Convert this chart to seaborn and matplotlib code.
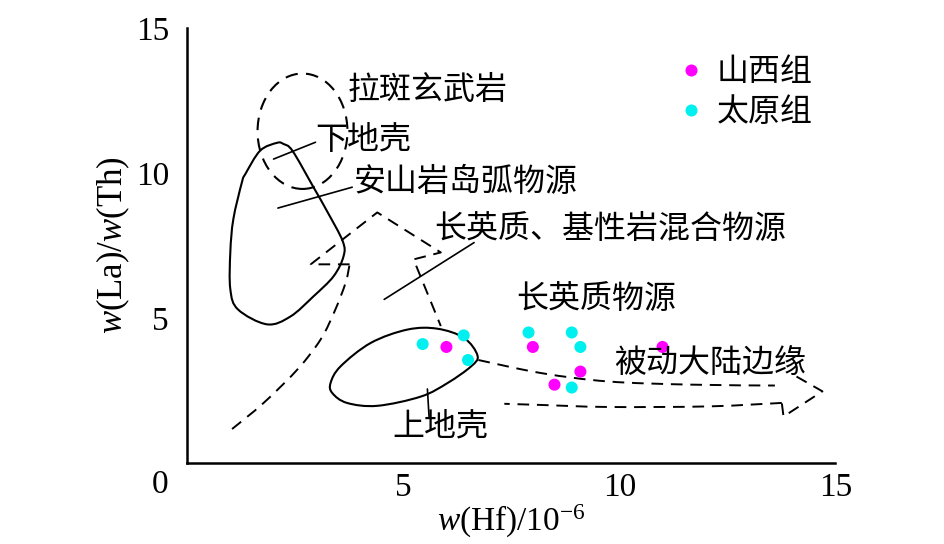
import numpy as np
import pandas as pd
import matplotlib
matplotlib.use("Agg")
import matplotlib.pyplot as plt
from matplotlib.path import Path
from matplotlib.patches import PathPatch, Ellipse
import seaborn as sns

# sample points
shanxi_x = [6.0, 8.0, 8.5, 9.1, 11.0]
shanxi_y = [4.0, 4.0, 2.7, 3.15, 4.0]
taiyuan_x = [5.45, 6.4, 6.5, 7.9, 8.9, 9.1, 8.9]
taiyuan_y = [4.1, 4.4, 3.55, 4.5, 4.5, 4.0, 2.6]

# field outlines (data units)
tholeiite_center = (2.67, 11.44)
tholeiite_size = (2.08, 3.98)
andesite_x = [2.08, 1.69, 1.35, 1.27, 1.07, 1.00, 1.00, 1.18, 1.85, 2.39, 2.92, 3.39, 3.62, 3.60, 3.25, 2.92, 2.44, 2.23]
andesite_y = [11.04, 10.77, 9.97, 9.69, 8.41, 7.27, 5.99, 5.29, 4.78, 5.05, 5.74, 6.44, 7.13, 7.65, 8.65, 9.52, 10.76, 11.0]
upper_crust_x = [3.32, 3.55, 4.25, 5.10, 5.79, 6.41, 6.72, 6.57, 6.03, 5.41, 4.40, 3.70, 3.36]
upper_crust_y = [2.76, 3.33, 4.14, 4.60, 4.63, 4.31, 3.70, 3.33, 2.76, 2.29, 1.97, 2.07, 2.41]
arc_curve_x = [1.04, 1.77, 2.55, 3.09, 3.43, 3.67, 3.76]
arc_curve_y = [1.17, 2.07, 3.22, 4.26, 5.29, 6.23, 6.85]
mixed_x = [3.76, 2.86, 4.40, 5.87, 5.24, 5.87]
mixed_y = [6.85, 6.85, 8.64, 7.26, 7.02, 4.72]
passive_top_x = [6.74, 8.19, 9.74, 11.67, 13.6]
passive_top_y = [3.55, 3.10, 2.81, 2.70, 2.67]
passive_head_x = [14.1, 14.7, 13.8, 13.76]
passive_head_y = [2.98, 2.47, 1.6, 2.07]
passive_low_x = [13.76, 12.06, 9.74, 8.19, 7.34]
passive_low_y = [2.07, 1.95, 1.93, 2.0, 2.04]

# labels: (text, x, y)
labels = [
    ("拉斑玄武岩", 3.71, 12.85),
    ("下地壳", 2.97, 11.14),
    ("安山岩岛弧物源", 3.85, 9.69),
    ("长英质、基性岩混合物源", 5.71, 8.06),
    ("长英质物源", 7.61, 5.64),
    ("被动大陆边缘", 9.88, 3.46),
    ("上地壳", 4.75, 1.26),
]
leaders = [
    ((2.0, 2.97), (10.48, 11.06)),
    ((2.10, 3.82), (8.79, 9.51)),
    ((4.56, 6.64), (5.64, 7.60)),
    ((5.56, 5.60), (2.55, 1.55)),
]

sns.set_style("white")
plt.rcParams["font.family"] = ["Liberation Serif", "Noto Sans CJK SC"]
plt.rcParams["mathtext.fontset"] = "custom"
plt.rcParams["mathtext.rm"] = "Liberation Serif"
plt.rcParams["mathtext.it"] = "Liberation Serif:italic"
for key in ["text.color", "axes.labelcolor", "xtick.color", "ytick.color"]:
    plt.rcParams[key] = "black"
CJK = ["Noto Sans CJK SC", "DejaVu Sans"]
DASH = (0, (6, 4))


def smooth_path(xs, ys, closed=False):
    # Catmull-Rom through the points, drawn as cubic Bezier by matplotlib
    pts = np.column_stack([xs, ys]).astype(float)
    n = len(pts)
    if closed:
        idx = lambda i: pts[i % n]
        segs = n
    else:
        idx = lambda i: pts[min(max(i, 0), n - 1)]
        segs = n - 1
    verts = [pts[0]]
    codes = [Path.MOVETO]
    for i in range(segs):
        p0, p1, p2, p3 = idx(i - 1), idx(i), idx(i + 1), idx(i + 2)
        verts += [p1 + (p2 - p0) / 6, p2 - (p3 - p1) / 6, p2]
        codes += [Path.CURVE4] * 3
    return Path(verts, codes)


fig = plt.figure(figsize=(9.45, 5.44), dpi=100)
ax = fig.add_axes([0.198, 0.149, 0.686, 0.7995])

df = pd.DataFrame({
    "x": shanxi_x + taiyuan_x,
    "y": shanxi_y + taiyuan_y,
    "group": ["山西组"] * len(shanxi_x) + ["太原组"] * len(taiyuan_x),
})
sns.scatterplot(data=df, x="x", y="y", hue="group",
                palette={"山西组": "#ff00ff", "太原组": "#00f0f0"},
                s=75, linewidth=0, ax=ax, zorder=3)

# fields
ax.add_patch(Ellipse(tholeiite_center, *tholeiite_size, fill=False,
                     ec="black", lw=1.5, ls=DASH))
ax.add_patch(PathPatch(smooth_path(andesite_x, andesite_y, closed=True),
                       fill=False, ec="black", lw=1.5))
ax.add_patch(PathPatch(smooth_path(upper_crust_x, upper_crust_y, closed=True),
                       fill=False, ec="black", lw=1.5))
ax.add_patch(PathPatch(smooth_path(arc_curve_x, arc_curve_y),
                       fill=False, ec="black", lw=1.4, ls=DASH))
ax.plot(mixed_x, mixed_y, color="black", lw=1.4, ls=DASH)
ax.add_patch(PathPatch(smooth_path(passive_top_x, passive_top_y),
                       fill=False, ec="black", lw=1.4, ls=DASH))
ax.plot(passive_head_x, passive_head_y, color="black", lw=1.4, ls=DASH)
ax.add_patch(PathPatch(smooth_path(passive_low_x, passive_low_y),
                       fill=False, ec="black", lw=1.4, ls=DASH))

for lx, ly in leaders:
    ax.plot(lx, ly, color="black", lw=1.2)
for txt, tx, ty in labels:
    ax.text(tx, ty, txt, family=CJK, fontsize=23, ha="left", va="center")

ax.set_xlim(0, 15)
ax.set_ylim(0, 15)
ax.set_xticks([0, 5, 10, 15])
ax.set_yticks([0, 5, 10, 15])
ax.set_xticklabels(["", "5", "10", "15"])
ax.set_yticklabels(["", "5", "10", "15"])
ax.text(-0.042, -0.05, "0", transform=ax.transAxes, ha="center", va="center", fontsize=24)
ax.tick_params(direction="in", length=9, width=1.5, labelsize=24)
ax.tick_params(axis="x", pad=7)
ax.tick_params(axis="y", pad=13)
for side in ["top", "right"]:
    ax.spines[side].set_visible(False)
for side in ["left", "bottom"]:
    ax.spines[side].set_linewidth(1.8)
    ax.spines[side].set_color("black")
ax.set_xlabel(r"$w$(Hf)/10$^{-6}$", fontsize=24, labelpad=0)
ax.set_ylabel(r"$w$(La)/$w$(Th)", fontsize=25, labelpad=3)

leg = ax.legend(loc="upper right", bbox_to_anchor=(0.995, 0.98), frameon=False,
                prop={"family": CJK, "size": 23}, handletextpad=-0.2,
                labelspacing=0.25, markerscale=1.0, borderaxespad=0.2)
fig.savefig("out.png", dpi=100)
